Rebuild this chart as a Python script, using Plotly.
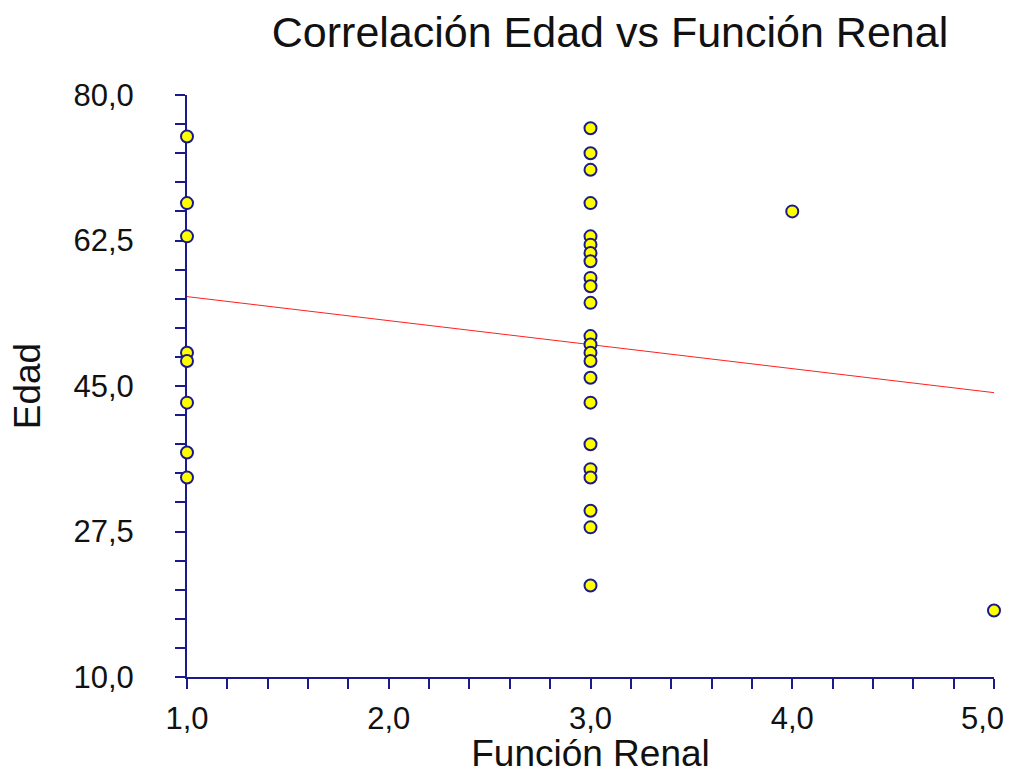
import plotly.graph_objects as go

# Data
funcion_renal = [1, 1, 1, 1, 1, 1, 1, 1,
                 3, 3, 3, 3, 3, 3, 3, 3, 3, 3, 3, 3, 3, 3, 3, 3, 3, 3, 3, 3, 3, 3, 3,
                 4, 5]
edad = [75, 67, 63, 49, 48, 43, 37, 34,
        76, 73, 71, 67, 63, 62, 61, 60, 58, 57, 55, 51, 50, 49, 48, 46, 43, 38, 35, 34, 30, 28, 21,
        66, 18]

trend_x = [1.0, 5.0]
trend_y = [55.75, 44.2]

x_ticks = [1, 2, 3, 4, 5]
y_ticks = [10, 27.5, 45, 62.5, 80]

NAVY = "#1a1a8a"
FONT = "Liberation Sans, Arial, sans-serif"
TXT = "#111111"

fig = go.Figure()
fig.add_trace(go.Scatter(
    x=trend_x, y=trend_y, mode="lines",
    line=dict(color="#ff2020", width=1),
    hoverinfo="skip", showlegend=False,
))
fig.add_trace(go.Scatter(
    x=funcion_renal, y=edad, mode="markers",
    marker=dict(symbol="circle", size=12, color="#ffff00",
                line=dict(color=NAVY, width=2)),
    cliponaxis=False, showlegend=False,
))

# last x tick label is pulled inward so it stays inside the page (as in the reference)
last = x_ticks[-1]
fig.add_annotation(
    x=last, xref="x", y=0, yref="paper",
    text=f"{last:.1f}".replace(".", ","),
    showarrow=False, xanchor="right", yanchor="middle",
    xshift=12, yshift=-41,
    font=dict(size=31, family=FONT, color=TXT),
)

fig.update_layout(
    width=1009, height=774,
    margin=dict(l=187, r=15, t=95, b=97),
    paper_bgcolor="white", plot_bgcolor="white",
    separators=",.",
    font=dict(family=FONT, color=TXT),
    title=dict(text="Correlación Edad vs Función Renal",
               x=610 / 1009, xref="container", xanchor="center",
               y=1 - 32 / 774, yref="container", yanchor="middle",
               font=dict(size=43, family=FONT, color=TXT)),
    xaxis=dict(
        range=[1, 5], tickvals=x_ticks[:-1], tickformat=".1f",
        showgrid=False, zeroline=False, automargin=False,
        showline=True, linecolor=NAVY, linewidth=2,
        ticks="outside", ticklen=10, tickwidth=2, tickcolor=NAVY,
        minor=dict(dtick=0.2, tick0=1, ticks="outside", ticklen=10,
                   tickwidth=2, tickcolor=NAVY, showgrid=False),
        tickfont=dict(size=31, family=FONT, color=TXT),
        ticklabelstandoff=3,
        title=dict(text="Función Renal", standoff=11,
                   font=dict(size=37, family=FONT, color=TXT)),
        layer="below traces",
    ),
    yaxis=dict(
        range=[10, 80], tickvals=y_ticks, tickformat=".1f",
        showgrid=False, zeroline=False, automargin=False,
        showline=True, linecolor=NAVY, linewidth=2,
        ticks="outside", ticklen=10, tickwidth=2, tickcolor=NAVY,
        minor=dict(dtick=3.5, tick0=10, ticks="outside", ticklen=10,
                   tickwidth=2, tickcolor=NAVY, showgrid=False),
        tickfont=dict(size=31, family=FONT, color=TXT),
        ticklabelstandoff=35,
        title=dict(text="Edad", standoff=22,
                   font=dict(size=37, family=FONT, color=TXT)),
        layer="below traces",
    ),
)

fig.write_html("out.html")
